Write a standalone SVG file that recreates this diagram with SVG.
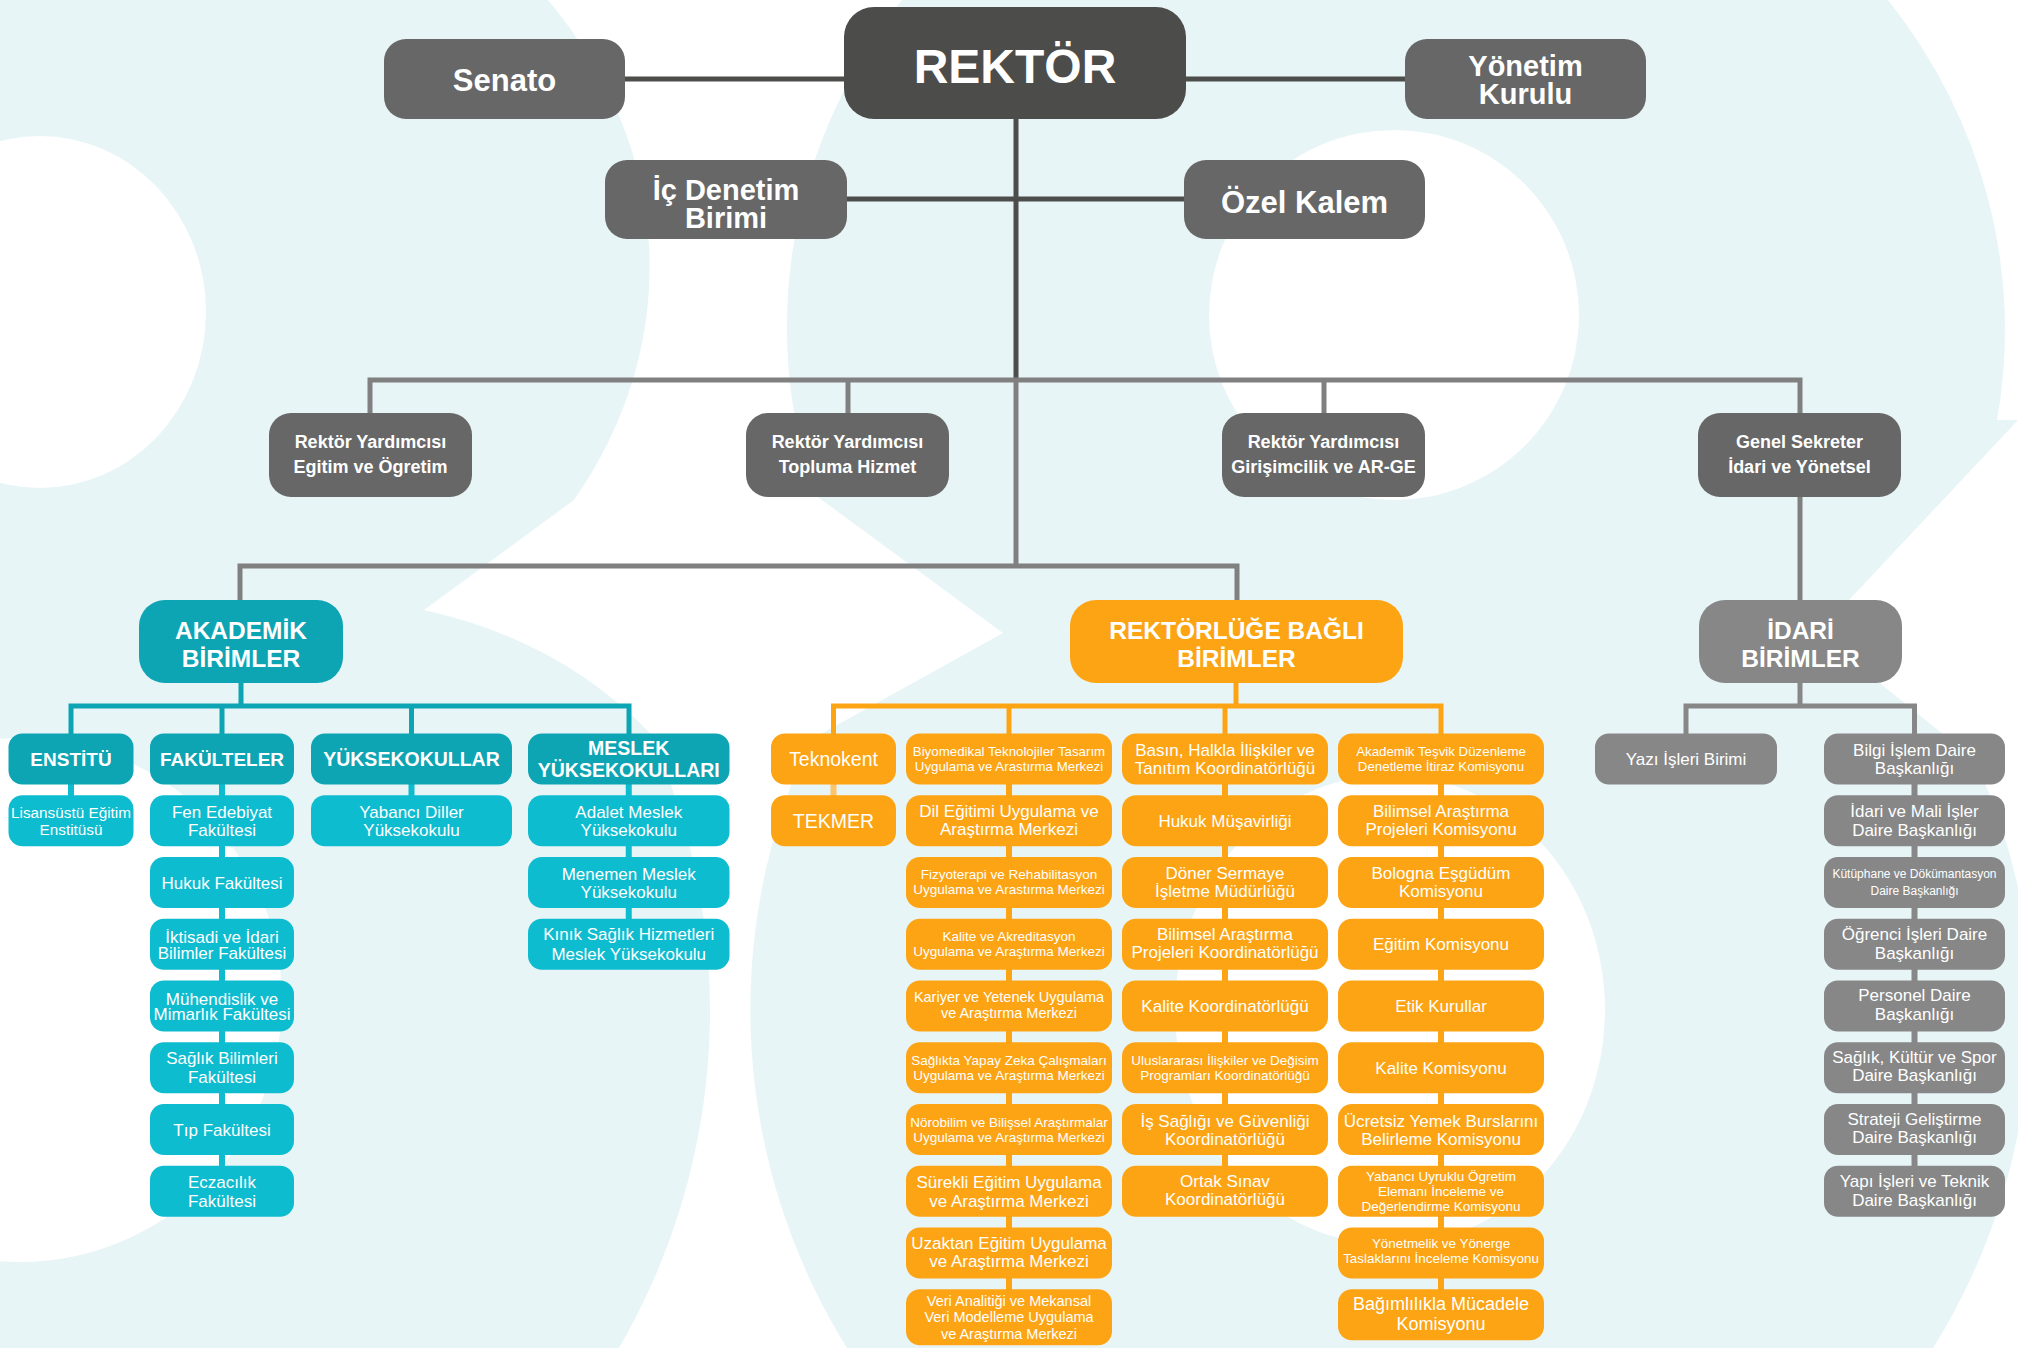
<svg xmlns="http://www.w3.org/2000/svg" width="2018" height="1348" viewBox="0 0 2018 1348">
<style>
.t{font-family:"Liberation Sans",Arial,sans-serif;fill:#fff;text-anchor:middle}
.b{font-weight:bold}
.dk{fill:#4c4c4a}.g1{fill:#676767}.g2{fill:#878787}.th{fill:#0da4b4}.tc{fill:#0ebcd0}.or{fill:#fda414}
.cn{fill:none;stroke-linecap:butt;stroke-linejoin:miter}
.bg{fill:#e8f5f7}.wh{fill:#fff}
</style>
<g id="background">
<rect class="bg" x="0" y="0" width="2018" height="1348"/>
<path class="wh" d="M548,0 A610,483 0 0 1 574,500 L424,610 Q560,640 650,733 A690,680 0 0 1 619,1348 L847,1348 A640,640 0 0 1 810,740 L1003,633 L815,495 A611,560 0 0 1 902,0 Z"/>
<path class="wh" d="M1888,0 A611,560 0 0 1 1997,420 L2018,420 L2018,0 Z"/>
<path class="wh" d="M2018,420 L1818,633 L1975,760 A640,640 0 0 1 2018,887 Z"/>
<path class="wh" d="M2018,1133 A640,640 0 0 1 1933,1348 L2018,1348 Z"/>
<ellipse class="wh" cx="40" cy="312" rx="166" ry="176"/>
<ellipse class="wh" cx="20" cy="1000" rx="262" ry="262"/>
<ellipse class="wh" cx="1394" cy="315" rx="185" ry="185"/>
<ellipse class="wh" cx="1390" cy="1010" rx="215" ry="235"/>
</g>
<g id="connectors">
<path class="cn" stroke="#4d4d4b" stroke-width="5" d="M625,79 H844 M1186,79 H1405 M847,199 H1184 M1016,119 V380"/>
<path class="cn" stroke="#808080" stroke-width="5" d="M1016,380 V566 M370,413 V380 H1800 V413 M848,380 V413 M1324,380 V413 M1800,497 V600 M240,600 V566 H1237 V600"/>
<path class="cn" stroke="#0da4b4" stroke-width="5" d="M241,683 V706 M71,734 V706 H629 V734 M222,706 V734 M411.5,706 V734"/>
<path class="cn" stroke="#0ebcd0" stroke-width="6" d="M71,784 V796 M222,784 V1166 M411.5,784 V796 M628.75,784 V919"/>
<path class="cn" stroke="#fda414" stroke-width="5" d="M1236,683 V706 M833.5,734 V706 H1441 V734 M1009,706 V734 M1225,706 V734"/>
<path class="cn" stroke="#fda414" stroke-width="6" d="M1009,760 V1300 M1225,760 V1180 M1441,760 V1300"/>
<path class="cn" stroke="#fcc46c" stroke-width="6" d="M833.5,784 V796"/>
<path class="cn" stroke="#878787" stroke-width="5" d="M1800,683 V706 M1686,734 V706 H1914.5 V734"/>
<path class="cn" stroke="#878787" stroke-width="6" d="M1914.5,760 V1190"/>
</g>
<g id="rektor"><rect class="dk" x="844" y="7" width="342" height="112" rx="30"/><text class="t b" x="1015" y="83" font-size="48">REKTÖR</text></g>
<g id="senato"><rect class="g1" x="384" y="39" width="241" height="80" rx="22"/><text class="t b" x="504.5" y="91" font-size="31">Senato</text></g>
<g id="yonetim-kurulu"><rect class="g1" x="1405" y="39" width="241" height="80" rx="22"/><text class="t b" font-size="29"><tspan x="1525.5" y="76">Yönetim</tspan><tspan x="1525.5" y="104">Kurulu</tspan></text></g>
<g id="ic-denetim"><rect class="g1" x="605" y="160" width="242" height="79" rx="22"/><text class="t b" font-size="29"><tspan x="726" y="200">İç Denetim</tspan><tspan x="726" y="228">Birimi</tspan></text></g>
<g id="ozel-kalem"><rect class="g1" x="1184" y="160" width="241" height="79" rx="22"/><text class="t b" x="1304.5" y="213" font-size="31">Özel Kalem</text></g>
<g id="vp-egitim"><rect class="g1" x="269" y="413" width="203" height="84" rx="22"/><text class="t b" font-size="18"><tspan x="370.5" y="448">Rektör Yardımcısı</tspan><tspan x="370.5" y="473">Egitim ve Ögretim</tspan></text></g>
<g id="vp-topluma"><rect class="g1" x="746" y="413" width="203" height="84" rx="22"/><text class="t b" font-size="18"><tspan x="847.5" y="448">Rektör Yardımcısı</tspan><tspan x="847.5" y="473">Topluma Hizmet</tspan></text></g>
<g id="vp-arge"><rect class="g1" x="1222" y="413" width="203" height="84" rx="22"/><text class="t b" font-size="18"><tspan x="1323.5" y="448">Rektör Yardımcısı</tspan><tspan x="1323.5" y="473">Girişimcilik ve AR-GE</tspan></text></g>
<g id="genel-sekreter"><rect class="g1" x="1698" y="413" width="203" height="84" rx="22"/><text class="t b" font-size="18"><tspan x="1799.5" y="448">Genel Sekreter</tspan><tspan x="1799.5" y="473">İdari ve Yönetsel</tspan></text></g>
<g id="akademik"><rect class="th" x="139" y="600" width="204" height="83" rx="26"/><text class="t b" font-size="24.5"><tspan x="241" y="639">AKADEMİK</tspan><tspan x="241" y="667">BİRİMLER</tspan></text></g>
<g id="rektorluge-bagli"><rect class="or" x="1070" y="600" width="333" height="83" rx="26"/><text class="t b" font-size="24.5"><tspan x="1236.5" y="639">REKTÖRLÜĞE BAĞLI</tspan><tspan x="1236.5" y="667">BİRİMLER</tspan></text></g>
<g id="idari"><rect class="g2" x="1699" y="600" width="203" height="83" rx="26"/><text class="t b" font-size="24.5"><tspan x="1800.5" y="639">İDARİ</tspan><tspan x="1800.5" y="667">BİRİMLER</tspan></text></g>
<g id="enstitu"><rect class="th" x="8.5" y="733.5" width="125" height="51" rx="14"/><text class="t b" x="71" y="766" font-size="19">ENSTİTÜ</text></g>
<g id="lisansustu"><rect class="tc" x="8.5" y="795.25" width="125" height="51" rx="14"/><text class="t" font-size="15.3"><tspan x="71" y="817.6">Lisansüstü Eğitim</tspan><tspan x="71" y="834.6">Enstitüsü</tspan></text></g>
<g id="fakulteler"><rect class="th" x="150" y="733.5" width="144" height="51" rx="14"/><text class="t b" x="222" y="766" font-size="19">FAKÜLTELER</text></g>
<g id="fen-edebiyat"><rect class="tc" x="150" y="795.25" width="144" height="51" rx="14"/><text class="t" font-size="17"><tspan x="222" y="817.75">Fen Edebiyat</tspan><tspan x="222" y="835.75">Fakültesi</tspan></text></g>
<g id="hukuk-fak"><rect class="tc" x="150" y="857" width="144" height="51" rx="14"/><text class="t" x="222" y="888.5" font-size="17">Hukuk Fakültesi</text></g>
<g id="iktisadi"><rect class="tc" x="150" y="918.75" width="144" height="51" rx="14"/><text class="t" font-size="17"><tspan x="222" y="942.5">İktisadi ve İdari</tspan><tspan x="222" y="958.5">Bilimler Fakültesi</tspan></text></g>
<g id="muhendislik"><rect class="tc" x="150" y="980.5" width="144" height="51" rx="14"/><text class="t" font-size="17"><tspan x="222" y="1004.5">Mühendislik ve</tspan><tspan x="222" y="1019.5">Mimarlık Fakültesi</tspan></text></g>
<g id="saglik-bilimleri"><rect class="tc" x="150" y="1042.25" width="144" height="51" rx="14"/><text class="t" font-size="17"><tspan x="222" y="1064.25">Sağlık Bilimleri</tspan><tspan x="222" y="1083.25">Fakültesi</tspan></text></g>
<g id="tip"><rect class="tc" x="150" y="1104" width="144" height="51" rx="14"/><text class="t" x="222" y="1135.5" font-size="17">Tıp Fakültesi</text></g>
<g id="eczacilik"><rect class="tc" x="150" y="1165.75" width="144" height="51" rx="14"/><text class="t" font-size="17"><tspan x="222" y="1187.75">Eczacılık</tspan><tspan x="222" y="1206.75">Fakültesi</tspan></text></g>
<g id="yuksekokullar"><rect class="th" x="311" y="733.5" width="201" height="51" rx="14"/><text class="t b" x="411.5" y="766" font-size="19.5">YÜKSEKOKULLAR</text></g>
<g id="yabanci-diller"><rect class="tc" x="311" y="795.25" width="201" height="51" rx="14"/><text class="t" font-size="17"><tspan x="411.5" y="817.75">Yabancı Diller</tspan><tspan x="411.5" y="835.75">Yüksekokulu</tspan></text></g>
<g id="meslek-yo"><rect class="th" x="528" y="733.5" width="201.5" height="51" rx="14"/><text class="t b" font-size="19.5"><tspan x="628.75" y="755">MESLEK</tspan><tspan x="628.75" y="777">YÜKSEKOKULLARI</tspan></text></g>
<g id="adalet"><rect class="tc" x="528" y="795.25" width="201.5" height="51" rx="14"/><text class="t" font-size="17"><tspan x="628.75" y="817.75">Adalet Meslek</tspan><tspan x="628.75" y="835.75">Yüksekokulu</tspan></text></g>
<g id="menemen"><rect class="tc" x="528" y="857" width="201.5" height="51" rx="14"/><text class="t" font-size="17"><tspan x="628.75" y="879.5">Menemen Meslek</tspan><tspan x="628.75" y="897.5">Yüksekokulu</tspan></text></g>
<g id="kinik"><rect class="tc" x="528" y="918.75" width="201.5" height="51" rx="14"/><text class="t" font-size="17"><tspan x="628.75" y="940.25">Kınık Sağlık Hizmetleri</tspan><tspan x="628.75" y="960.25">Meslek Yüksekokulu</tspan></text></g>
<g id="teknokent"><rect class="or" x="771" y="733.5" width="125" height="51" rx="14"/><text class="t" x="833.5" y="766" font-size="19.5">Teknokent</text></g>
<g id="tekmer"><rect class="or" x="771" y="795.25" width="125" height="51" rx="14"/><text class="t" x="833.5" y="827.75" font-size="19.5">TEKMER</text></g>
<g id="biyomedikal"><rect class="or" x="906" y="733.5" width="206" height="51" rx="14"/><text class="t" font-size="13.3"><tspan x="1009" y="756">Biyomedikal Teknolojiler Tasarım</tspan><tspan x="1009" y="771">Uygulama ve Arastırma Merkezi</tspan></text></g>
<g id="dil-egitimi"><rect class="or" x="906" y="795.25" width="206" height="51" rx="14"/><text class="t" font-size="17"><tspan x="1009" y="817">Dil Eğitimi Uygulama ve</tspan><tspan x="1009" y="835">Araştırma Merkezi</tspan></text></g>
<g id="fizyoterapi"><rect class="or" x="906" y="857" width="206" height="51" rx="14"/><text class="t" font-size="13.5"><tspan x="1009" y="879">Fizyoterapi ve Rehabilitasyon</tspan><tspan x="1009" y="894">Uygulama ve Arastırma Merkezi</tspan></text></g>
<g id="kalite-akreditasyon"><rect class="or" x="906" y="918.75" width="206" height="51" rx="14"/><text class="t" font-size="13.5"><tspan x="1009" y="941">Kalite ve Akreditasyon</tspan><tspan x="1009" y="956">Uygulama ve Araştırma Merkezi</tspan></text></g>
<g id="kariyer"><rect class="or" x="906" y="980.5" width="206" height="51" rx="14"/><text class="t" font-size="14.5"><tspan x="1009" y="1002">Kariyer ve Yetenek Uygulama</tspan><tspan x="1009" y="1018">ve Araştırma Merkezi</tspan></text></g>
<g id="yapay-zeka"><rect class="or" x="906" y="1042.25" width="206" height="51" rx="14"/><text class="t" font-size="13.5"><tspan x="1009" y="1064.5">Sağlıkta Yapay Zeka Çalışmaları</tspan><tspan x="1009" y="1079.5">Uygulama ve Araştırma Merkezi</tspan></text></g>
<g id="norobilim"><rect class="or" x="906" y="1104" width="206" height="51" rx="14"/><text class="t" font-size="13.5"><tspan x="1009" y="1126.5">Nörobilim ve Bilişsel Araştırmalar</tspan><tspan x="1009" y="1141.5">Uygulama ve Araştırma Merkezi</tspan></text></g>
<g id="surekli-egitim"><rect class="or" x="906" y="1165.75" width="206" height="51" rx="14"/><text class="t" font-size="17"><tspan x="1009" y="1187.5">Sürekli Eğitim Uygulama</tspan><tspan x="1009" y="1206.5">ve Araştırma Merkezi</tspan></text></g>
<g id="uzaktan-egitim"><rect class="or" x="906" y="1227.5" width="206" height="51" rx="14"/><text class="t" font-size="17"><tspan x="1009" y="1249">Uzaktan Eğitim Uygulama</tspan><tspan x="1009" y="1267">ve Araştırma Merkezi</tspan></text></g>
<g id="veri-analitigi"><rect class="or" x="906" y="1289.25" width="206" height="56" rx="14"/><text class="t" font-size="14.5"><tspan x="1009" y="1305.75">Veri Analitiği ve Mekansal</tspan><tspan x="1009" y="1322.25">Veri Modelleme Uygulama</tspan><tspan x="1009" y="1338.75">ve Araştırma Merkezi</tspan></text></g>
<g id="basin"><rect class="or" x="1122" y="733.5" width="206" height="51" rx="14"/><text class="t" font-size="17"><tspan x="1225" y="756">Basın, Halkla İlişkiler ve</tspan><tspan x="1225" y="774">Tanıtım Koordinatörlüğü</tspan></text></g>
<g id="hukuk-musavirligi"><rect class="or" x="1122" y="795.25" width="206" height="51" rx="14"/><text class="t" x="1225" y="826.75" font-size="17">Hukuk Müşavirliği</text></g>
<g id="doner-sermaye"><rect class="or" x="1122" y="857" width="206" height="51" rx="14"/><text class="t" font-size="17"><tspan x="1225" y="878.5">Döner Sermaye</tspan><tspan x="1225" y="896.5">İşletme Müdürlüğü</tspan></text></g>
<g id="bap-koordinatorlugu"><rect class="or" x="1122" y="918.75" width="206" height="51" rx="14"/><text class="t" font-size="17"><tspan x="1225" y="939.5">Bilimsel Araştırma</tspan><tspan x="1225" y="958">Projeleri Koordinatörlüğü</tspan></text></g>
<g id="kalite-koordinatorlugu"><rect class="or" x="1122" y="980.5" width="206" height="51" rx="14"/><text class="t" x="1225" y="1012" font-size="17">Kalite Koordinatörlüğü</text></g>
<g id="uluslararasi"><rect class="or" x="1122" y="1042.25" width="206" height="51" rx="14"/><text class="t" font-size="13.5"><tspan x="1225" y="1064.5">Uluslararası İlişkiler ve Değisim</tspan><tspan x="1225" y="1079.5">Programları Koordinatörlüğü</tspan></text></g>
<g id="is-sagligi"><rect class="or" x="1122" y="1104" width="206" height="51" rx="14"/><text class="t" font-size="17"><tspan x="1225" y="1126.5">İş Sağlığı ve Güvenliği</tspan><tspan x="1225" y="1144.5">Koordinatörlüğü</tspan></text></g>
<g id="ortak-sinav"><rect class="or" x="1122" y="1165.75" width="206" height="51" rx="14"/><text class="t" font-size="17"><tspan x="1225" y="1186.5">Ortak Sınav</tspan><tspan x="1225" y="1205">Koordinatörlüğü</tspan></text></g>
<g id="akademik-tesvik"><rect class="or" x="1338" y="733.5" width="206" height="51" rx="14"/><text class="t" font-size="13.3"><tspan x="1441" y="756">Akademik Teşvik Düzenleme</tspan><tspan x="1441" y="771">Denetleme İtiraz Komisyonu</tspan></text></g>
<g id="bap-komisyonu"><rect class="or" x="1338" y="795.25" width="206" height="51" rx="14"/><text class="t" font-size="17"><tspan x="1441" y="816.5">Bilimsel Araştırma</tspan><tspan x="1441" y="834.5">Projeleri Komisyonu</tspan></text></g>
<g id="bologna"><rect class="or" x="1338" y="857" width="206" height="51" rx="14"/><text class="t" font-size="17"><tspan x="1441" y="878.5">Bologna Eşgüdüm</tspan><tspan x="1441" y="897">Komisyonu</tspan></text></g>
<g id="egitim-komisyonu"><rect class="or" x="1338" y="918.75" width="206" height="51" rx="14"/><text class="t" x="1441" y="950.25" font-size="17">Eğitim Komisyonu</text></g>
<g id="etik-kurullar"><rect class="or" x="1338" y="980.5" width="206" height="51" rx="14"/><text class="t" x="1441" y="1012" font-size="17">Etik Kurullar</text></g>
<g id="kalite-komisyonu"><rect class="or" x="1338" y="1042.25" width="206" height="51" rx="14"/><text class="t" x="1441" y="1073.75" font-size="17">Kalite Komisyonu</text></g>
<g id="ucretsiz-yemek"><rect class="or" x="1338" y="1104" width="206" height="51" rx="14"/><text class="t" font-size="17"><tspan x="1441" y="1126.5">Ücretsiz Yemek Burslarını</tspan><tspan x="1441" y="1144.5">Belirleme Komisyonu</tspan></text></g>
<g id="yabanci-uyruklu"><rect class="or" x="1338" y="1165.75" width="206" height="51" rx="14"/><text class="t" font-size="13.5"><tspan x="1441" y="1181">Yabancı Uyruklu Ögretim</tspan><tspan x="1441" y="1196">Elemanı İnceleme ve</tspan><tspan x="1441" y="1210.5">Değerlendirme Komisyonu</tspan></text></g>
<g id="yonetmelik"><rect class="or" x="1338" y="1227.5" width="206" height="51" rx="14"/><text class="t" font-size="13.4"><tspan x="1441" y="1248">Yönetmelik ve Yönerge</tspan><tspan x="1441" y="1263">Taslaklarını İnceleme Komisyonu</tspan></text></g>
<g id="bagimlilik"><rect class="or" x="1338" y="1289.25" width="206" height="51" rx="14"/><text class="t" font-size="18"><tspan x="1441" y="1309.5">Bağımlılıkla Mücadele</tspan><tspan x="1441" y="1329.5">Komisyonu</tspan></text></g>
<g id="yazi-isleri"><rect class="g2" x="1595" y="733.5" width="182" height="51" rx="14"/><text class="t" x="1686" y="765" font-size="17">Yazı İşleri Birimi</text></g>
<g id="bilgi-islem"><rect class="g2" x="1824" y="733.5" width="181" height="51" rx="14"/><text class="t" font-size="17"><tspan x="1914.5" y="755.5">Bilgi İşlem Daire</tspan><tspan x="1914.5" y="774">Başkanlığı</tspan></text></g>
<g id="idari-mali"><rect class="g2" x="1824" y="795.25" width="181" height="51" rx="14"/><text class="t" font-size="17"><tspan x="1914.5" y="817">İdari ve Mali İşler</tspan><tspan x="1914.5" y="836">Daire Başkanlığı</tspan></text></g>
<g id="kutuphane"><rect class="g2" x="1824" y="857" width="181" height="51" rx="14"/><text class="t" font-size="12"><tspan x="1914.5" y="877.5">Kütüphane ve Dökümantasyon</tspan><tspan x="1914.5" y="894.5">Daire Başkanlığı</tspan></text></g>
<g id="ogrenci-isleri"><rect class="g2" x="1824" y="918.75" width="181" height="51" rx="14"/><text class="t" font-size="17"><tspan x="1914.5" y="940">Öğrenci İşleri Daire</tspan><tspan x="1914.5" y="959">Başkanlığı</tspan></text></g>
<g id="personel"><rect class="g2" x="1824" y="980.5" width="181" height="51" rx="14"/><text class="t" font-size="17"><tspan x="1914.5" y="1000.5">Personel Daire</tspan><tspan x="1914.5" y="1019.5">Başkanlığı</tspan></text></g>
<g id="saglik-kultur"><rect class="g2" x="1824" y="1042.25" width="181" height="51" rx="14"/><text class="t" font-size="17"><tspan x="1914.5" y="1062.5">Sağlık, Kültür ve Spor</tspan><tspan x="1914.5" y="1081">Daire Başkanlığı</tspan></text></g>
<g id="strateji"><rect class="g2" x="1824" y="1104" width="181" height="51" rx="14"/><text class="t" font-size="17"><tspan x="1914.5" y="1124.5">Strateji Geliştirme</tspan><tspan x="1914.5" y="1143">Daire Başkanlığı</tspan></text></g>
<g id="yapi-isleri"><rect class="g2" x="1824" y="1165.75" width="181" height="51" rx="14"/><text class="t" font-size="17"><tspan x="1914.5" y="1187">Yapı İşleri ve Teknik</tspan><tspan x="1914.5" y="1206">Daire Başkanlığı</tspan></text></g>
</svg>
